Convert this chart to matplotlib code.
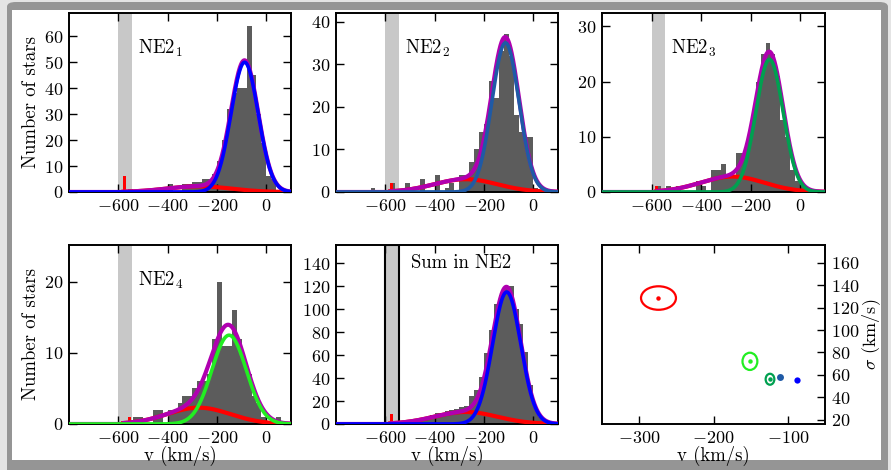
"""Velocity histograms of the NE2 fields with two-Gaussian fits, plus (v, sigma) panel."""

import matplotlib
matplotlib.use("Agg")
import matplotlib.pyplot as plt
import numpy as np
from matplotlib.patches import Ellipse, FancyBboxPatch

plt.rcParams["font.family"] = "cmr10"
plt.rcParams["mathtext.fontset"] = "cm"
plt.rcParams["axes.formatter.use_mathtext"] = True
plt.rcParams["axes.unicode_minus"] = True

# 20 km/s bins from -700 to +100 (centres -690 ... 90)
BIN_EDGES = np.arange(-700, 101, 20)

COUNTS_1 = [0, 0, 0, 0, 0, 0, 0, 1, 0, 0, 0, 0, 0, 0, 0, 3, 0, 0, 3, 3,
            4, 4, 5, 5, 7, 12, 20, 32, 38, 40, 40, 64, 45, 30, 19, 6, 5, 0, 0, 0]
COUNTS_2 = [0, 0, 1, 0, 0, 0, 2, 0, 0, 2, 0, 0, 3, 0, 0, 4, 0, 1, 2, 0,
            4, 4, 7, 10, 14, 16, 26, 22, 33, 37, 32, 18, 14, 13, 13, 1, 0, 0, 0, 0]
COUNTS_3 = [0, 0, 0, 0, 0, 0, 1, 0, 1, 0, 1, 0, 0, 0, 2, 1, 0, 4, 4, 5,
            3, 3, 7, 7, 9, 14, 20, 25, 27, 25, 21, 13, 10, 4, 2, 1, 0, 0, 0, 0]
COUNTS_4 = [0, 0, 0, 0, 0, 0, 0, 0, 1, 1, 0, 0, 2, 2, 0, 2, 2, 3, 4, 4,
            5, 6, 6, 7, 12, 20, 11, 11, 16, 12, 9, 7, 4, 3, 1, 0, 0, 1, 0, 0]
COUNTS_5 = [0, 0, 1, 0, 0, 0, 2, 1, 3, 3, 3, 3, 4, 5, 8, 10, 10, 11, 12, 13,
            15, 16, 24, 30, 41, 62, 82, 105, 112, 120, 120, 100, 87, 63, 34, 15, 6, 1, 0, 0]

# red (flagged) counts inside the shaded band: (centre, count)
FLAGGED = [(-575, 6), (-575, 2), (-580, 1), (-555, 1), (-575, 9)]

# Gaussian fit components: (mean, sigma, amplitude)
MAIN_FIT = [(-88, 55, 50), (-113, 55, 35), (-124, 55, 24), (-151, 70, 12.5), (-108, 57, 115)]
HALO_FIT = [(-274, 128, 2.2), (-274, 128, 3.0), (-274, 128, 2.8), (-274, 128, 2.3), (-274, 128, 10.5)]

LABELS = [r"NE2$_1$", r"NE2$_2$", r"NE2$_3$", r"NE2$_4$", "Sum in NE2"]
MAIN_COLORS = ["#0000ff", "#1f5aa6", "#00a050", "#22ee22", "#0000ff"]
Y_MAX = [69, 42, 32.4, 25.2, 156]
Y_TICKS = [np.arange(0, 61, 10), np.arange(0, 41, 10), np.arange(0, 31, 10),
           np.arange(0, 21, 10), np.arange(0, 141, 20)]

# (v, sigma) of the fitted components, with ellipse sizes (full width in v, full height in sigma)
COMP_V = [-274, -151, -124, -110, -87]
COMP_SIG = [128.6, 72, 56, 58, 55.5]
COMP_EW = [47, 20, 11.7, 0, 0]
COMP_EH = [21, 15.4, 9.8, 0, 0]
COMP_COLORS = ["#ff0000", "#22ee22", "#00a050", "#1f5aa6", "#0000ff"]

BAND = (-600, -545)
HIST_COLOR = "#5c5c5c"
BAND_COLOR = "#c8c8c8"
HALO_COLOR = "#ff0000"
TOTAL_COLOR = "#b000b0"

W, H = 891, 470
fig = plt.figure(figsize=(W / 100, H / 100), dpi=100)
fig.patch.set_facecolor("#e4e4e4")
fig.patches.append(FancyBboxPatch((7 / W, -0.05), 881 / W, 1.05 - 2 / H,
                                  boxstyle="round,pad=0,rounding_size=0.01",
                                  transform=fig.transFigure, facecolor="#959595",
                                  edgecolor="none", zorder=-10))
fig.patches.append(plt.Rectangle((12 / W, 10 / H), 869 / W, 450 / H,
                                 transform=fig.transFigure, facecolor="white",
                                 edgecolor="none", zorder=-9))


def px_axes(left, top, right, bottom):
    return fig.add_axes([left / W, 1 - bottom / H, (right - left) / W, (bottom - top) / H])


def gauss(x, mu, sig, amp):
    return amp * np.exp(-0.5 * ((x - mu) / sig) ** 2)


def style(ax):
    for s in ax.spines.values():
        s.set_linewidth(1.4)
    ax.tick_params(direction="in", length=6, width=1, labelsize=13,
                   top=True, right=True, pad=4)


positions = [(69, 13, 291, 192), (336, 13, 558, 192), (602, 13, 825, 192),
             (69, 245, 291, 424), (336, 245, 558, 424)]
counts_all = [COUNTS_1, COUNTS_2, COUNTS_3, COUNTS_4, COUNTS_5]
centres = 0.5 * (BIN_EDGES[:-1] + BIN_EDGES[1:])
v = np.linspace(-800, 100, 800)
v_halo = np.linspace(-580, 100, 600)

for i, pos in enumerate(positions):
    ax = px_axes(*pos)
    band_edge = "black" if i == 4 else "none"
    ax.axvspan(*BAND, facecolor=BAND_COLOR, edgecolor=band_edge, linewidth=1.5, zorder=0)
    ax.bar(centres, counts_all[i], width=20, color=HIST_COLOR, linewidth=0, zorder=1)
    fc, fn = FLAGGED[i]
    ax.bar([fc], [fn], width=12, color=HALO_COLOR, linewidth=0, zorder=2)
    main = gauss(v, *MAIN_FIT[i])
    halo_full = gauss(v, *HALO_FIT[i]) * (v >= -580)
    ax.plot(v_halo, gauss(v_halo, *HALO_FIT[i]), color=HALO_COLOR, lw=3, zorder=3)
    ax.plot(v, main + halo_full, color=TOTAL_COLOR, lw=3, zorder=4)
    ax.plot(v, main, color=MAIN_COLORS[i], lw=2.6, zorder=5)
    ax.set_xlim(-800, 100)
    ax.set_ylim(0, Y_MAX[i])
    ax.set_xticks([-600, -400, -200, 0])
    ax.set_yticks(Y_TICKS[i])
    style(ax)
    tx, ty = (0.34, 0.90) if i == 4 else (0.31, 0.80)
    ax.text(tx, ty, LABELS[i], transform=ax.transAxes, ha="left", va="center", fontsize=13.5)
    if i in (0, 3):
        ax.set_ylabel("Number of stars", fontsize=13.5, labelpad=3)
    if i >= 3:
        ax.set_xlabel("v (km/s)", fontsize=13.5, labelpad=0)

# (v, sigma) panel
ax = px_axes(602, 245, 825, 424)
for k in range(len(COMP_V)):
    c = COMP_COLORS[k]
    if COMP_EW[k] > 0:
        ax.add_patch(Ellipse((COMP_V[k], COMP_SIG[k]), COMP_EW[k], COMP_EH[k],
                             facecolor="none", edgecolor=c, lw=1.6))
        ax.plot(COMP_V[k], COMP_SIG[k], "o", color=c, ms=3.2, mec="none")
    else:
        ax.plot(COMP_V[k], COMP_SIG[k], "o", color=c, ms=5 if k == 3 else 4.5, mec="none")
ax.set_xlim(-350, -50)
ax.set_ylim(16, 176)
ax.set_xticks([-300, -200, -100])
ax.set_yticks(np.arange(20, 161, 20))
style(ax)
ax.tick_params(left=False, labelleft=False, right=True, labelright=True)
ax.yaxis.set_label_position("right")
ax.set_ylabel(r"$\sigma$ (km/s)", fontsize=13, labelpad=1)
ax.set_xlabel("v (km/s)", fontsize=13.5, labelpad=0)

fig.savefig("out.png", dpi=100, facecolor=fig.get_facecolor())
